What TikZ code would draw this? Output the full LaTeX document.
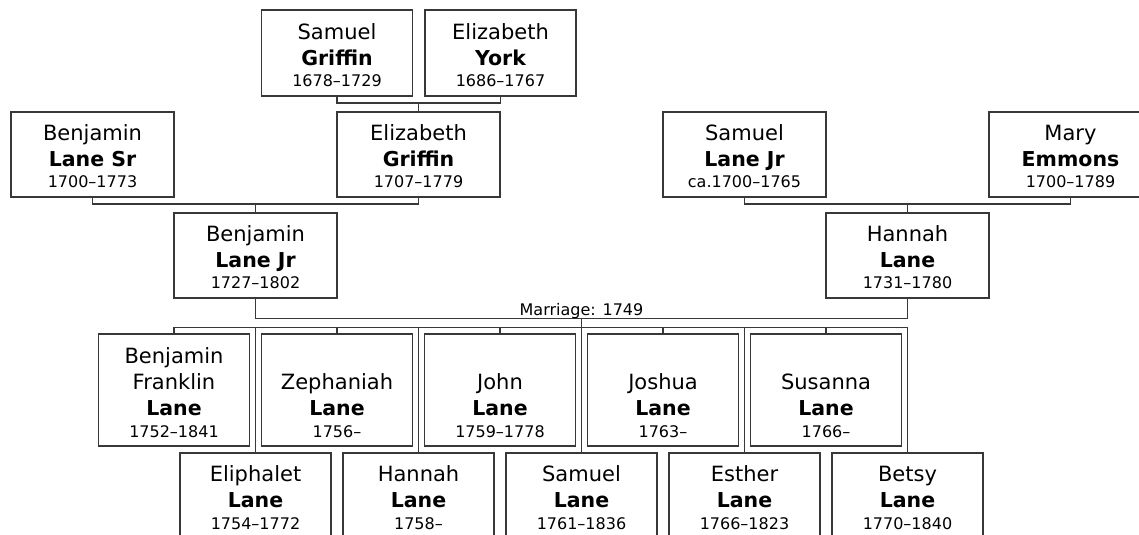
\documentclass[tikz,border=0pt]{standalone}
\usepackage{fontspec}
\setmainfont{DejaVu Sans}
\usetikzlibrary{calc}
\newcommand{\NL}[2]{\vskip#1\hbox to\hsize{\hss\smash{#2}\hss}}
\newcommand{\nmf}{\fontsize{21bp}{24bp}\selectfont}
\newcommand{\snf}{\fontsize{20.5bp}{24bp}\selectfont\bfseries}
\newcommand{\dtf}{\fontsize{16bp}{19bp}\selectfont}
\newcommand{\three}[5]{\vbox to #2{\hsize=#1\offinterlineskip\vfill
  \NL{0pt}{\nmf #3}\NL{26bp}{\snf #4}\NL{21.5bp}{\dtf #5}\vskip9bp}}
\newcommand{\four}[6]{\vbox to #2{\hsize=#1\offinterlineskip\vfill
  \NL{0pt}{\nmf #3}\NL{26bp}{\nmf #4}\NL{26bp}{\snf #5}\NL{21.5bp}{\dtf #6}\vskip9bp}}
\begin{document}
\begin{tikzpicture}[x=1bp,y=-1bp,
  person/.style={draw=black!78, line width=1.2bp, inner sep=0pt, outer sep=0pt, fill=white},
  wire/.style={draw=black!78, line width=1.2bp},
  lbl/.style={font=\dtf, inner sep=0pt, anchor=base}]
\useasboundingbox (0,0) rectangle (1139,535);
\clip (0,0) rectangle (1139,535);
\fill[white] (0,0) rectangle (1139,535);
% great-grandparents
\node[person] (sg) at (337,53) {\three{151bp}{86bp}{Samuel}{Griffin}{1678–1729}};
\node[person] (ey) at (500.5,53) {\three{151bp}{86bp}{Elizabeth}{York}{1686–1767}};
% grandparents
\node[person] (blsr) at (92.5,154.5) {\three{163bp}{85bp}{Benjamin}{Lane Sr}{1700–1773}};
\node[person] (eg) at (418.5,154.5) {\three{163bp}{85bp}{Elizabeth}{Griffin}{1707–1779}};
\node[person] (slj) at (744.5,154.5) {\three{163bp}{85bp}{Samuel}{Lane Jr}{ca.1700–1765}};
\node[person] (me) at (1070.5,154.5) {\three{163bp}{85bp}{Mary}{Emmons}{1700–1789}};
% parents
\node[person] (bljr) at (255.5,255.5) {\three{163bp}{85bp}{Benjamin}{Lane Jr}{1727–1802}};
\node[person] (hl) at (907.5,255.5) {\three{163bp}{85bp}{Hannah}{Lane}{1731–1780}};
% children, upper row
\node[person] (bfl) at (174,390) {\four{151bp}{112bp}{Benjamin}{Franklin}{Lane}{1752–1841}};
\node[person] (zeph) at (337,390) {\three{151bp}{112bp}{Zephaniah}{Lane}{1756–}};
\node[person] (john) at (500,390) {\three{151bp}{112bp}{John}{Lane}{1759–1778}};
\node[person] (joshua) at (663,390) {\three{151bp}{112bp}{Joshua}{Lane}{1763–}};
\node[person] (susanna) at (826,390) {\three{151bp}{112bp}{Susanna}{Lane}{1766–}};
% children, lower row
\node[person] (eliph) at (255.5,495.5) {\three{151bp}{85bp}{Eliphalet}{Lane}{1754–1772}};
\node[person] (hannah) at (418.5,495.5) {\three{151bp}{85bp}{Hannah}{Lane}{1758–}};
\node[person] (samuel) at (581.5,495.5) {\three{151bp}{85bp}{Samuel}{Lane}{1761–1836}};
\node[person] (esther) at (744.5,495.5) {\three{151bp}{85bp}{Esther}{Lane}{1766–1823}};
\node[person] (betsy) at (907.5,495.5) {\three{151bp}{85bp}{Betsy}{Lane}{1770–1840}};
% connectors
\draw[wire] (sg.south) -- ++(0,7) -| (ey.south);
\draw[wire] (eg.north) -- ++(0,-9);
\draw[wire] (blsr.south) -- ++(0,7) -| (eg.south);
\draw[wire] (bljr.north) -- ++(0,-9);
\draw[wire] (slj.south) -- ++(0,7) -| (me.south);
\draw[wire] (hl.north) -- ++(0,-9);
\draw[wire] (bljr.south) -- ++(0,20.5) -| (hl.south);
\coordinate (mid) at ($(bljr.south)!0.5!(hl.south)+(0,20.5)$);
\coordinate (bus) at ($(mid)+(0,9)$);
\node[lbl] (mlabel) at ($(mid)+(0,-3)$) {Marriage: 1749};
\draw[wire] (mid) -- (bus);
\draw[wire] (bfl.north |- bus) -- (betsy.north |- bus);
\foreach \n in {bfl,zeph,john,joshua,susanna,eliph,hannah,samuel,esther,betsy}
  \draw[wire] (\n.north) -- (\n.north |- bus);
\end{tikzpicture}
\end{document}
